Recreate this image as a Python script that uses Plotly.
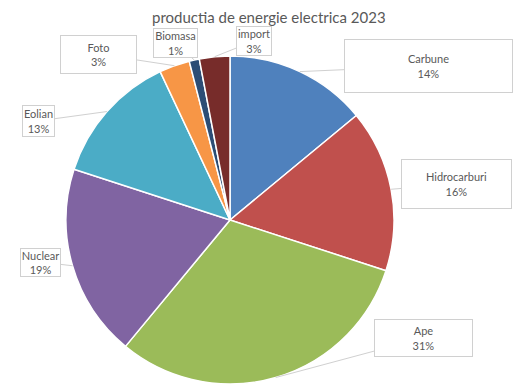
import numpy as np
import plotly.graph_objects as go

categories = ["Carbune", "Hidrocarburi", "Ape", "Nuclear", "Eolian", "Foto", "Biomasa", "import"]
values = [14, 16, 31, 19, 13, 3, 1, 3]
colors = ["#4F81BD", "#C0504D", "#9BBB59", "#8064A2", "#4BACC6", "#F79646", "#2C4D75", "#772C2A"]

# callout box centres and sizes (page pixels), style only
box_centers = [(428, 66), (456, 184), (423, 338), (40, 262), (38, 121), (98, 54), (175, 43), (254, 41)]
box_sizes = [(169, 54), (111, 50), (99, 38), (41, 29), (33, 32), (77, 39), (45, 30), (36, 30)]

W, H = 524, 389
OFF = 8  # default page body margin
CX, CY, R = 230 - OFF, 220 - OFF, 164

fig = go.Figure(go.Pie(
    labels=categories, values=values, sort=False, direction="clockwise", rotation=0,
    marker=dict(colors=colors, line=dict(color="white", width=1.5)),
    textinfo="none", hoverinfo="label+percent",
    domain=dict(x=[(CX - R) / W, (CX + R) / W], y=[1 - (CY + R) / H, 1 - (CY - R) / H]),
    showlegend=False,
))

total = sum(values)
cum = np.cumsum([0] + values)
annotations = []
for i, cat in enumerate(categories):
    mid = (cum[i] + values[i] / 2) / total * 2 * np.pi
    tx = CX + R * np.sin(mid)
    ty = CY - R * np.cos(mid)
    bx, by = box_centers[i][0] - OFF, box_centers[i][1] - OFF
    bw, bh = box_sizes[i]
    pct = round(values[i] / total * 100)
    annotations.append(dict(
        x=tx / W, y=1 - ty / H, xref="paper", yref="paper",
        ax=bx - tx, ay=by - ty, axref="pixel", ayref="pixel",
        showarrow=True, arrowhead=0, arrowwidth=1, arrowcolor="#D0D0D0",
        text=f"{cat}<br>{pct}%", align="center", valign="middle",
        width=bw - 2, height=bh - 2, borderpad=0,
        bordercolor="#D0D0D0", borderwidth=1, bgcolor="white",
        font=dict(family="Lato, Carlito, sans-serif", size=11, color="#595959"),
    ))

annotations.append(dict(
    x=(269 - OFF) / W, y=1, xref="paper", yref="paper", showarrow=False,
    text="productia de energie electrica 2023", xanchor="center", yanchor="top",
    yshift=1, borderpad=0, height=18, valign="top",
    font=dict(family="Lato, Carlito, sans-serif", size=15, color="#595959"),
))

fig.update_layout(
    width=W, height=H, margin=dict(l=0, r=0, t=0, b=0),
    paper_bgcolor="white", plot_bgcolor="white",
    annotations=annotations,
)

fig.write_html("out.html")
